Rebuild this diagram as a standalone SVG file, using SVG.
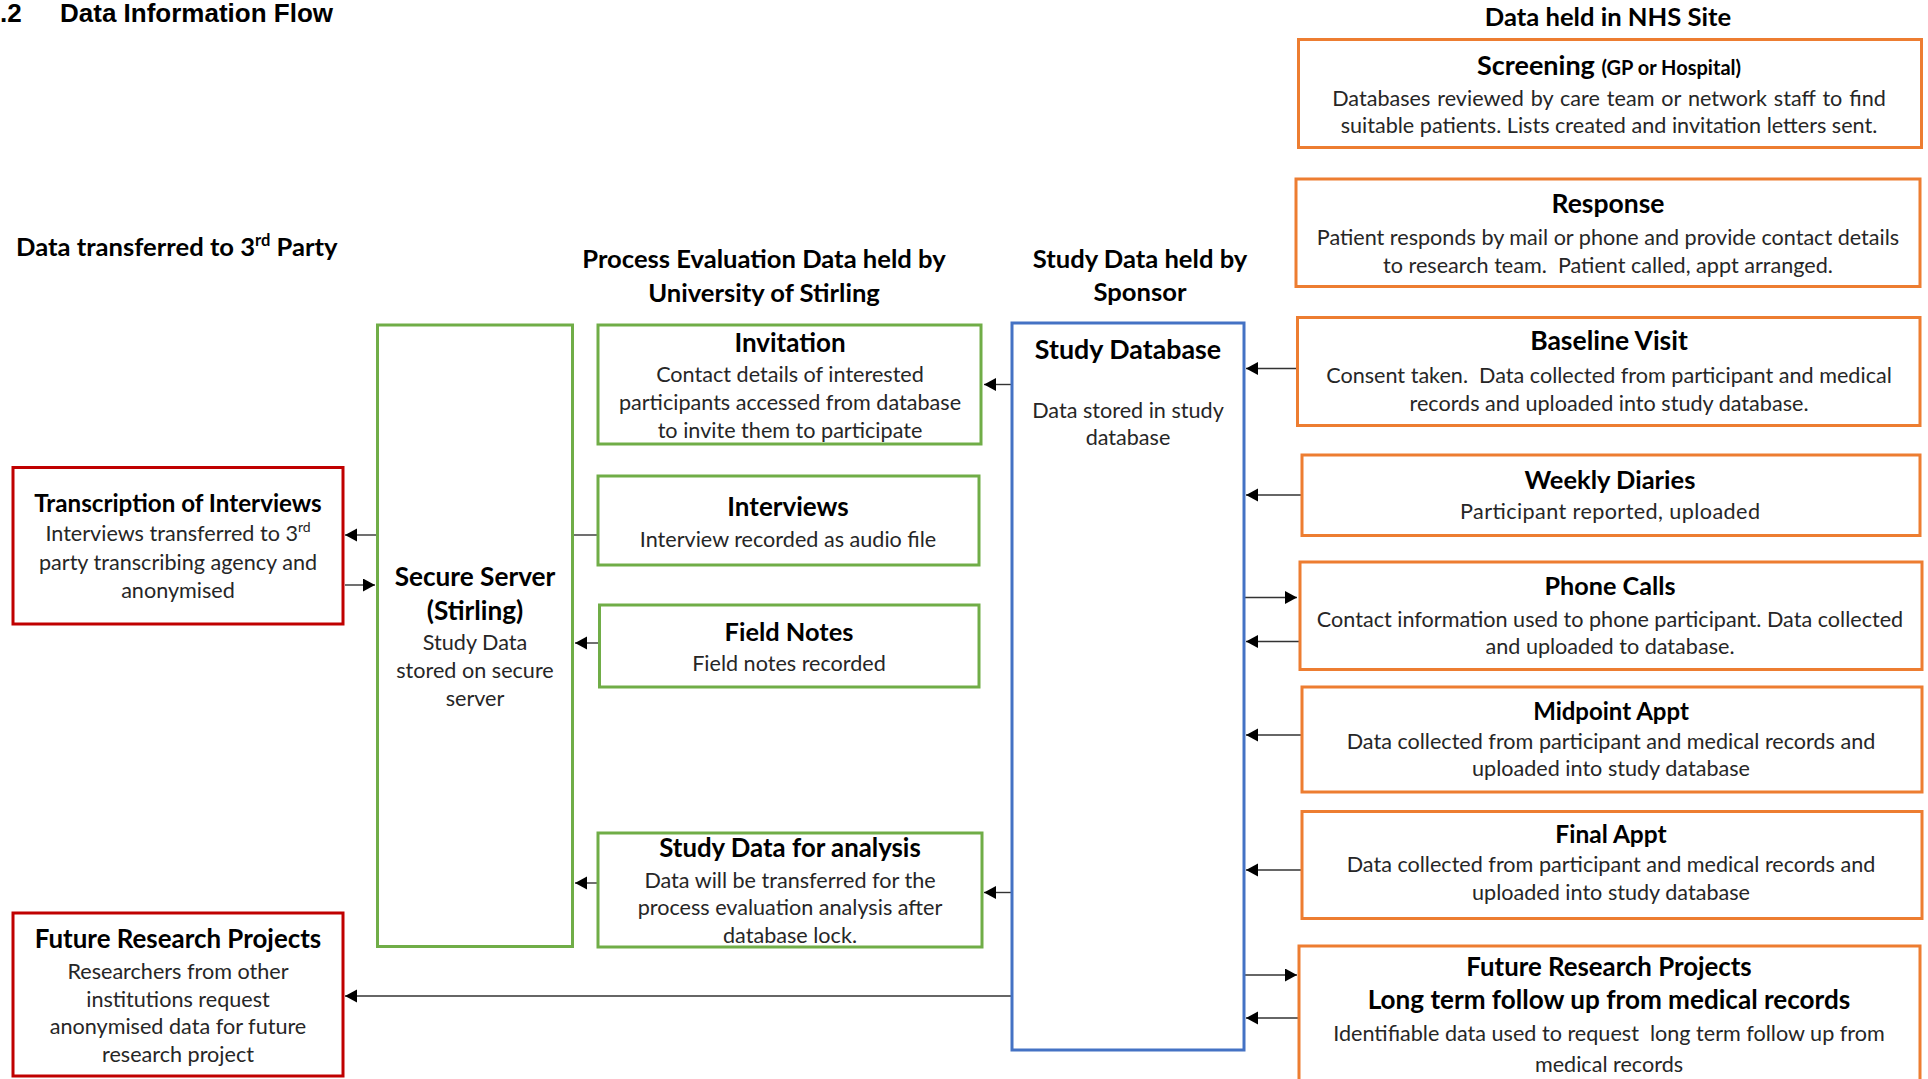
<svg xmlns="http://www.w3.org/2000/svg" width="1928" height="1079" viewBox="0 0 1928 1079">
<style>
.bg{fill:#fff}
.box{fill:#fff;stroke-width:3}
.or{stroke:#ED7D31}
.gr{stroke:#70AD47}
.bl{stroke:#4472C4}
.rd{stroke:#C00000}
text{font-family:Lato,"Open Sans","Liberation Sans",sans-serif;text-anchor:middle}
.t{font-weight:bold;font-size:26px;fill:#000}
.b{font-size:21.6px;fill:#262626}
.h{font-weight:bold;font-size:25.6px;fill:#000}
.title{font-family:"Liberation Sans",Arial,sans-serif;font-weight:bold;font-size:26px;text-anchor:start;fill:#000}
.c{stroke:#333;stroke-width:1.4;fill:none}
.ca{stroke:#333;stroke-width:1.4;fill:none;marker-end:url(#ah)}
</style>
<defs>
<marker id="ah" markerUnits="userSpaceOnUse" markerWidth="13" markerHeight="14" refX="12" refY="6.5" orient="auto">
<path d="M0,0 L12,6.5 L0,13 z" fill="#000"/>
</marker>
</defs>
<rect class="bg" x="0" y="0" width="1928" height="1079"/>

<g id="headers">
<text class="title" x="0" y="22">.2</text>
<text class="title" x="60" y="22">Data Information Flow</text>
<text class="h" x="1608" y="26">Data held in NHS Site</text>
<text class="h" x="16" y="256" style="text-anchor:start">Data transferred to 3<tspan font-size="16.5" dy="-10">rd</tspan><tspan dy="10"> Party</tspan></text>
<text class="h" x="764" y="268">Process Evaluation Data held by</text>
<text class="h" x="764" y="302">University of Stirling</text>
<text class="h" x="1140" y="268">Study Data held by</text>
<text class="h" x="1140" y="301">Sponsor</text>
</g>

<g id="connectors">
<line class="ca" x1="1298" y1="368.5" x2="1246" y2="368.5"/>
<line class="ca" x1="1302" y1="495" x2="1246" y2="495"/>
<line class="ca" x1="1245" y1="597.5" x2="1297" y2="597.5"/>
<line class="ca" x1="1300" y1="641.5" x2="1246" y2="641.5"/>
<line class="ca" x1="1302" y1="735" x2="1246" y2="735"/>
<line class="ca" x1="1302" y1="870" x2="1246" y2="870"/>
<line class="ca" x1="1245" y1="975" x2="1297" y2="975"/>
<line class="ca" x1="1299" y1="1018" x2="1246" y2="1018"/>
<line class="ca" x1="1012" y1="384.5" x2="984" y2="384.5"/>
<line class="ca" x1="1012" y1="892.5" x2="984" y2="892.5"/>
<line class="ca" x1="1012" y1="996" x2="345" y2="996"/>
<line class="c" x1="598" y1="535" x2="573" y2="535"/>
<line class="ca" x1="599" y1="643" x2="575" y2="643"/>
<line class="ca" x1="598" y1="883" x2="575" y2="883"/>
<line class="ca" x1="377" y1="535" x2="345" y2="535"/>
<line class="ca" x1="345" y1="585" x2="375" y2="585"/>
</g>

<g id="screening">
<rect class="box or" x="1298.5" y="39.5" width="623" height="108"/>
<text class="t" x="1609" y="74.5" style="font-size:27px">Screening <tspan font-size="20">(GP or Hospital)</tspan></text>
<text class="b" x="1609" y="105.5" style="word-spacing:1.4px">Databases reviewed by care team or network staff to find</text>
<text class="b" x="1609" y="133">suitable patients. Lists created and invitation letters sent.</text>
</g>

<g id="response">
<rect class="box or" x="1296" y="179" width="624" height="107.5"/>
<text class="t" x="1608" y="212.5" style="font-size:26.5px">Response</text>
<text class="b" x="1608" y="245">Patient responds by mail or phone and provide contact details</text>
<text class="b" x="1608" y="272.5" xml:space="preserve">to research team.  Patient called, appt arranged.</text>
</g>

<g id="baseline">
<rect class="box or" x="1297.5" y="317.5" width="622.5" height="108"/>
<text class="t" x="1609" y="350" style="font-size:26.5px">Baseline Visit</text>
<text class="b" x="1609" y="382.5" xml:space="preserve">Consent taken.  Data collected from participant and medical</text>
<text class="b" x="1609" y="410.5">records and uploaded into study database.</text>
</g>

<g id="weekly">
<rect class="box or" x="1302" y="455" width="618" height="80.5"/>
<text class="t" x="1610" y="488.5" style="font-size:25.5px">Weekly Diaries</text>
<text class="b" x="1610" y="518.5" textLength="300">Participant reported, uploaded</text>
</g>

<g id="phone">
<rect class="box or" x="1300" y="562" width="622" height="107.5"/>
<text class="t" x="1610" y="594.5" style="font-size:25.2px">Phone Calls</text>
<text class="b" x="1610" y="626.5">Contact information used to phone participant. Data collected</text>
<text class="b" x="1610" y="654">and uploaded to database.</text>
</g>

<g id="midpoint">
<rect class="box or" x="1302" y="687" width="620" height="105"/>
<text class="t" x="1611" y="719.5" style="font-size:24px">Midpoint Appt</text>
<text class="b" x="1611" y="748.5">Data collected from participant and medical records and</text>
<text class="b" x="1611" y="776">uploaded into study database</text>
</g>

<g id="final">
<rect class="box or" x="1302" y="811.5" width="620" height="107"/>
<text class="t" x="1611" y="843" style="font-size:24.5px">Final Appt</text>
<text class="b" x="1611" y="872">Data collected from participant and medical records and</text>
<text class="b" x="1611" y="899.5">uploaded into study database</text>
</g>

<g id="future-nhs">
<rect class="box or" x="1299" y="946" width="621" height="150"/>
<text class="t" x="1609" y="975.5" style="font-size:25.8px">Future Research Projects</text>
<text class="t" x="1609" y="1008.5" style="font-size:26.1px">Long term follow up from medical records</text>
<text class="b" x="1609" y="1040.5" xml:space="preserve">Identifiable data used to request  long term follow up from</text>
<text class="b" x="1609" y="1071.5">medical records</text>
</g>

<g id="study-database">
<rect class="box bl" x="1012" y="323" width="232" height="727"/>
<text class="t" x="1128" y="358.5" style="font-size:26.8px">Study Database</text>
<text class="b" x="1128" y="417.5">Data stored in study</text>
<text class="b" x="1128" y="444.5">database</text>
</g>

<g id="invitation">
<rect class="box gr" x="598" y="325" width="383" height="119"/>
<text class="t" x="790" y="351.5">Invitation</text>
<text class="b" x="790" y="382">Contact details of interested</text>
<text class="b" x="790" y="410">participants accessed from database</text>
<text class="b" x="790" y="437.5">to invite them to participate</text>
</g>

<g id="interviews">
<rect class="box gr" x="598" y="476" width="381" height="89"/>
<text class="t" x="788" y="515.5">Interviews</text>
<text class="b" x="788" y="546.5">Interview recorded as audio file</text>
</g>

<g id="field-notes">
<rect class="box gr" x="599.5" y="605" width="379.5" height="82"/>
<text class="t" x="789" y="640.5" style="font-size:25.4px">Field Notes</text>
<text class="b" x="789" y="671">Field notes recorded</text>
</g>

<g id="analysis">
<rect class="box gr" x="598" y="833" width="384" height="114"/>
<text class="t" x="790" y="856.5" style="font-size:25.8px">Study Data for analysis</text>
<text class="b" x="790" y="887.5">Data will be transferred for the</text>
<text class="b" x="790" y="915">process evaluation analysis after</text>
<text class="b" x="790" y="942.5">database lock.</text>
</g>

<g id="secure-server">
<rect class="box gr" x="377.5" y="325" width="195" height="621.5"/>
<text class="t" x="475" y="585.5" style="font-size:26.2px">Secure Server</text>
<text class="t" x="475" y="619.5" style="font-size:26.2px">(Stirling)</text>
<text class="b" x="475" y="649.5">Study Data</text>
<text class="b" x="475" y="677.5">stored on secure</text>
<text class="b" x="475" y="705.5">server</text>
</g>

<g id="transcription">
<rect class="box rd" x="13" y="467.5" width="330" height="156.5"/>
<text class="t" x="178" y="511.5" style="font-size:24.2px">Transcription of Interviews</text>
<text class="b" x="178" y="540.5">Interviews transferred to 3<tspan font-size="14" dy="-9">rd</tspan></text>
<text class="b" x="178" y="569.5">party transcribing agency and</text>
<text class="b" x="178" y="597.5">anonymised</text>
</g>

<g id="future-research">
<rect class="box rd" x="13" y="913" width="330" height="163"/>
<text class="t" x="178" y="947.5" style="font-size:25.9px">Future Research Projects</text>
<text class="b" x="178" y="978.5">Researchers from other</text>
<text class="b" x="178" y="1006.5">institutions request</text>
<text class="b" x="178" y="1033.5">anonymised data for future</text>
<text class="b" x="178" y="1061.5">research project</text>
</g>
</svg>
